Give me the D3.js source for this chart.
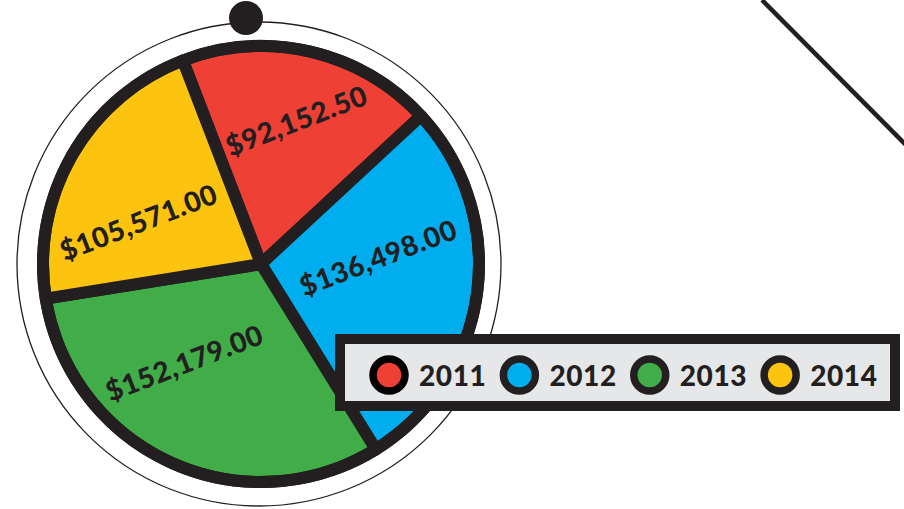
<!DOCTYPE html>
<html>
<head>
<meta charset="utf-8">
<script src="https://cdn.jsdelivr.net/npm/d3@7"></script>
<style>
  html, body { margin: 0; padding: 0; background: #ffffff; }
  svg { display: block; }
  text { font-family: "Lato", "DejaVu Sans", sans-serif; font-weight: 900; fill: #231f20; }
</style>
</head>
<body>
<svg id="chart" width="904" height="509"></svg>
<script>
// ---- data ----
const categories = ["2011", "2012", "2013", "2014"];
const values = [92152.50, 136498.00, 152179.00, 105571.00];
const valueLabels = ["$92,152.50", "$136,498.00", "$152,179.00", "$105,571.00"];
const colors = ["#ef4036", "#00aeef", "#40ad49", "#fdc40f"];

// ---- layout / style constants ----
const cx = 261, cy = 264;
const rotationDeg = -21;          // whole pie is tilted
const outerR = 218, ringWidth = 12;
const haloR = 242;
const labelR = 140;
const labelNudge = [[6, -6], [-11, -32], [-7, -34], [-11, 25]];
const ink = "#231f20";

const svg = d3.select("#chart");

// decorative diagonal line
svg.append("line")
  .attr("x1", 762).attr("y1", 0).attr("x2", 908).attr("y2", 147)
  .attr("stroke", ink).attr("stroke-width", 4.5);

// halo circle
svg.append("circle")
  .attr("cx", cx - 2).attr("cy", cy).attr("r", haloR)
  .attr("fill", "none").attr("stroke", ink).attr("stroke-width", 1.3);

// top dot
svg.append("circle")
  .attr("cx", 246).attr("cy", 18).attr("r", 17).attr("fill", ink);

const g = svg.append("g")
  .attr("transform", `translate(${cx},${cy}) rotate(${rotationDeg})`);

const pie = d3.pie().sort(null).value(d => d);
const arcs = pie(values);
const arc = d3.arc().innerRadius(0).outerRadius(outerR);
const labelArc = d3.arc().innerRadius(labelR).outerRadius(labelR);

g.selectAll("path.slice")
  .data(arcs)
  .join("path")
  .attr("class", "slice")
  .attr("d", arc)
  .attr("fill", (d, i) => colors[i])
  .attr("stroke", ink)
  .attr("stroke-width", ringWidth)
  .attr("stroke-linejoin", "round");

g.append("circle").attr("r", outerR).attr("fill", "none")
  .attr("stroke", ink).attr("stroke-width", ringWidth);

g.selectAll("text.val")
  .data(arcs)
  .join("text")
  .attr("class", "val")
  .attr("x", (d, i) => labelArc.centroid(d)[0] + labelNudge[i][0])
  .attr("y", (d, i) => labelArc.centroid(d)[1] + labelNudge[i][1])
  .attr("text-anchor", "middle")
  .attr("dominant-baseline", "central")
  .attr("font-size", 28)
  .attr("letter-spacing", 0.6)
  .text((d, i) => valueLabels[i]);

// ---- legend ----
const legend = svg.append("g");
legend.append("rect")
  .attr("x", 340).attr("y", 339).attr("width", 555).attr("height", 67)
  .attr("fill", "#e6e7e8").attr("stroke", ink).attr("stroke-width", 10);

let nextCx = 389;
categories.forEach((c, i) => {
  legend.append("circle")
    .attr("cx", nextCx).attr("cy", 375).attr("r", 16)
    .attr("fill", colors[i]).attr("stroke", i === 0 ? "#000" : ink).attr("stroke-width", 7.5);
  const t = legend.append("text")
    .attr("x", nextCx + 30).attr("y", 386)
    .attr("font-size", 28)
    .attr("letter-spacing", 0.6)
    .text(c);
  const w = t.node().getComputedTextLength();
  nextCx = nextCx + 30 + w + 33;
});
</script>
</body>
</html>
